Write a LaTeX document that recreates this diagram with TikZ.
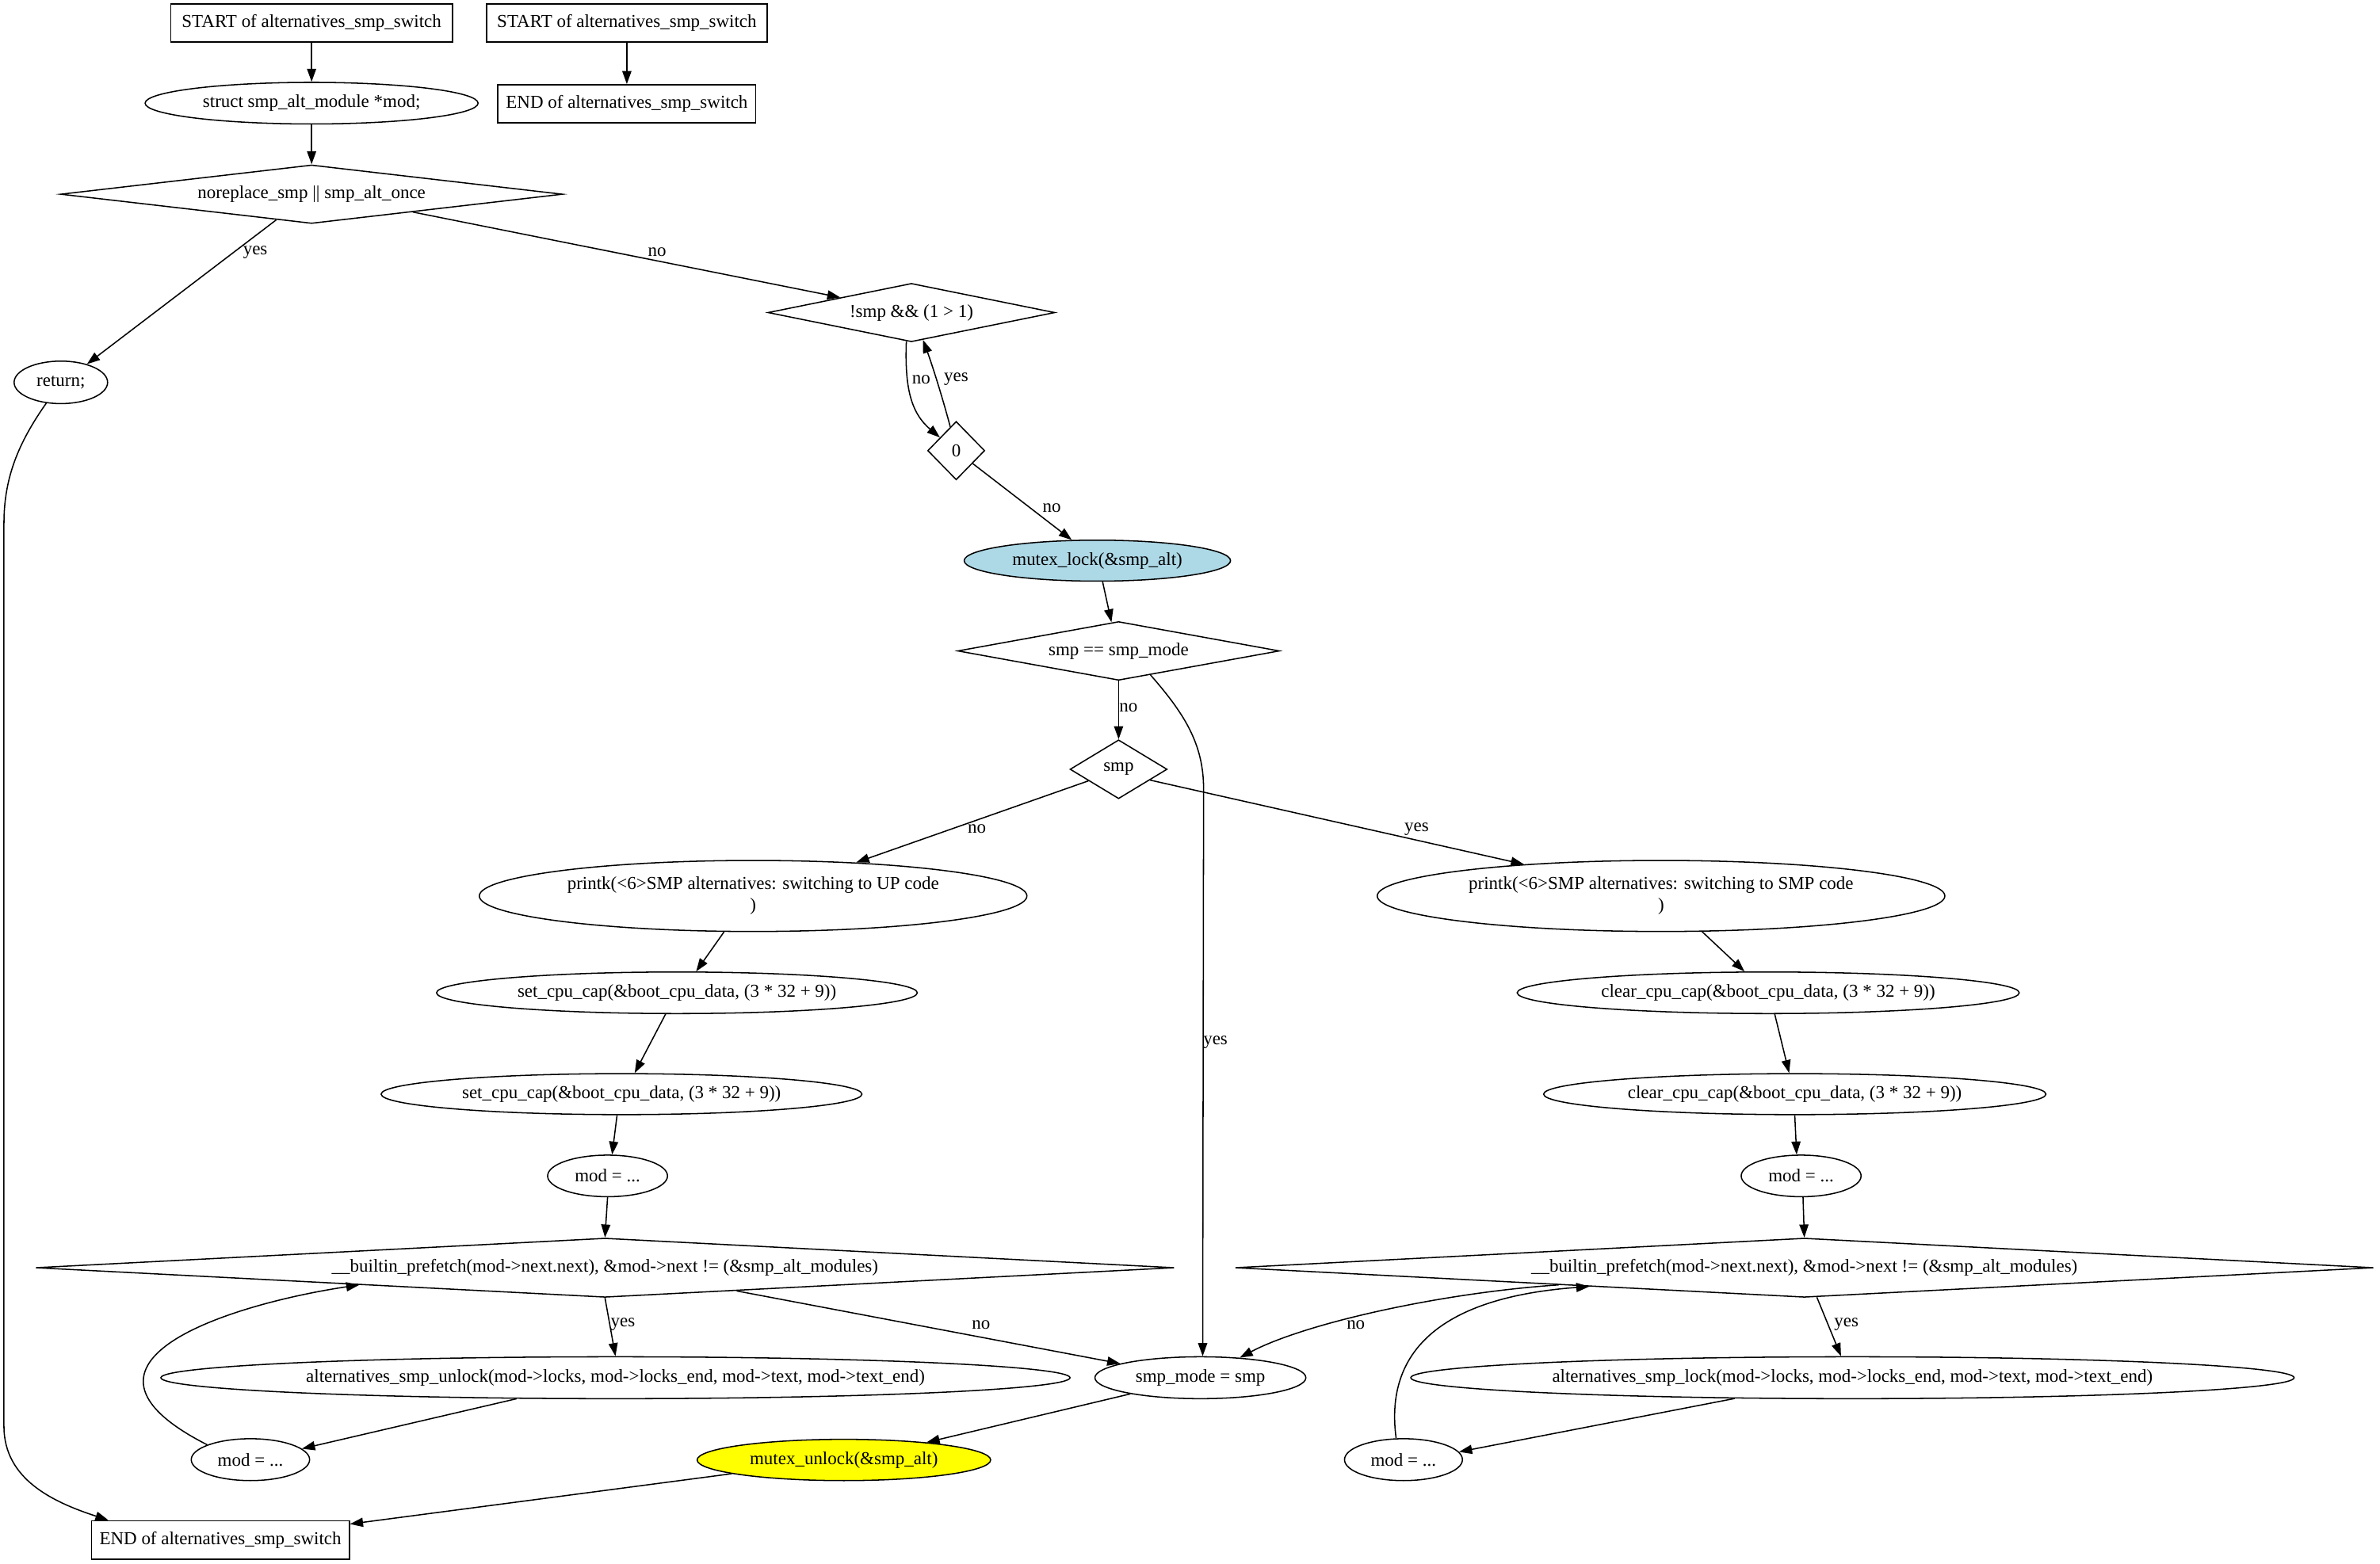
\documentclass[tikz,border=0pt]{standalone}
\usepackage{fontspec}
\setmainfont{Liberation Serif}
\usetikzlibrary{shapes.geometric,arrows.meta}
\definecolor{lblue}{RGB}{173,216,230}
\definecolor{yel}{RGB}{255,255,0}
\begin{document}
\begin{tikzpicture}[x=1pt,y=-1pt,
  every node/.style={font=\fontsize{12}{14}\selectfont, inner sep=0pt},
  box/.style={draw, rectangle, minimum height=25.2pt, line width=0.8pt},
  ell/.style={draw, ellipse, line width=0.8pt},
  dia/.style={draw, diamond, line width=0.8pt},
  arr/.style={-{Triangle[length=8.6pt,width=6pt]}, line width=0.8pt},
  lbl/.style={font=\fontsize{12}{14}\selectfont}]
\useasboundingbox (0,0) rectangle (1568.1,1030.3);

% ---- nodes
\node[box, minimum width=185.5pt] (start1) at (205.3,15.2) {START of alternatives\_smp\_switch};
\node[box, minimum width=185pt] (start2) at (413,15.2) {START of alternatives\_smp\_switch};
\node[box, minimum width=170pt] (end2) at (413,68.4) {END of alternatives\_smp\_switch};
\node[ell, minimum width=219.4pt, minimum height=27.4pt] (structmod) at (205.3,68) {struct smp\_alt\_module *mod;};
\node[dia, aspect=8.57, minimum width=330.7pt, minimum height=38.6pt] (noreplace) at (205.3,128) {noreplace\_smp || smp\_alt\_once};
\node[ell, minimum width=61.6pt, minimum height=28pt] (ret) at (40.1,252) {return;};
\node[dia, aspect=4.9, minimum width=189pt, minimum height=38.5pt] (notsmp) at (600.5,206) {!smp \&\& (1 > 1)};
\node[dia, aspect=1, minimum width=37.6pt, minimum height=38.5pt] (zero) at (630,297) {0};
\node[ell, fill=lblue, minimum width=175.5pt, minimum height=27pt] (mlock) at (723,369.5) {mutex\_lock(\&smp\_alt)};
\node[dia, aspect=5.5, minimum width=212pt, minimum height=38.7pt] (eqmode) at (737,429) {smp == smp\_mode};
\node[dia, aspect=1.65, minimum width=64pt, minimum height=38.8pt] (smp) at (737,507) {smp};
\node[ell, align=center, minimum width=360.8pt, minimum height=46.8pt] (printkUP) at (496.2,590.5) {printk(<6>SMP alternatives: switching to UP code\\)};
\node[ell, align=center, minimum width=374pt, minimum height=46.8pt] (printkSMP) at (1094.4,590.5) {printk(<6>SMP alternatives: switching to SMP code\\)};
\node[ell, minimum width=316.8pt, minimum height=27.4pt] (set1) at (446,654.3) {set\_cpu\_cap(\&boot\_cpu\_data, (3 * 32 + 9))};
\node[ell, minimum width=316.8pt, minimum height=27pt] (set2) at (409.5,721.1) {set\_cpu\_cap(\&boot\_cpu\_data, (3 * 32 + 9))};
\node[ell, minimum width=79pt, minimum height=27.4pt] (mod1) at (400.3,775) {mod = ...};
\node[dia, aspect=19.2, minimum width=750.2pt, minimum height=39pt] (builtinL) at (398.6,835.5) {\_\_builtin\_prefetch(mod->next.next), \&mod->next != (\&smp\_alt\_modules)};
\node[ell, minimum width=599pt, minimum height=27.6pt] (unlock) at (405.5,908) {alternatives\_smp\_unlock(mod->locks, mod->locks\_end, mod->text, mod->text\_end)};
\node[ell, minimum width=78pt, minimum height=27.6pt] (mod2L) at (165,962) {mod = ...};
\node[ell, minimum width=139pt, minimum height=27.6pt] (smpmode) at (790.9,908) {smp\_mode = smp};
\node[ell, fill=yel, minimum width=193.4pt, minimum height=27.2pt] (munlock) at (556,962.2) {mutex\_unlock(\&smp\_alt)};
\node[box, minimum width=170pt] (endL) at (145.2,1014.9) {END of alternatives\_smp\_switch};
\node[ell, minimum width=330.8pt, minimum height=27.4pt] (clear1) at (1165,654.3) {clear\_cpu\_cap(\&boot\_cpu\_data, (3 * 32 + 9))};
\node[ell, minimum width=331pt, minimum height=27pt] (clear2) at (1182.5,721.1) {clear\_cpu\_cap(\&boot\_cpu\_data, (3 * 32 + 9))};
\node[ell, minimum width=79pt, minimum height=27.4pt] (modR) at (1186.7,775) {mod = ...};
\node[dia, aspect=19.2, minimum width=750pt, minimum height=39pt] (builtinR) at (1188.8,835.5) {\_\_builtin\_prefetch(mod->next.next), \&mod->next != (\&smp\_alt\_modules)};
\node[ell, minimum width=582pt, minimum height=27.6pt] (lock) at (1220.5,908) {alternatives\_smp\_lock(mod->locks, mod->locks\_end, mod->text, mod->text\_end)};
\node[ell, minimum width=77.7pt, minimum height=27.6pt] (modR2) at (924.7,962) {mod = ...};

% ---- edges
\draw[arr] (start1.south) -- (structmod.north);
\draw[arr] (start2.south) -- (end2.north);
\draw[arr] (structmod.south) -- (noreplace.north);
\draw[arr] (noreplace.216) -- (ret.35) node[lbl] at (168.2,166.2) {yes};
\draw[arr] (noreplace.-10.6) -- (notsmp.168) node[lbl] at (433,166.2) {no};
\draw[arr] (ret.235) .. controls (12,292) and (2.6,315) .. (2.6,345) -- (2.6,940) .. controls (2.6,975) and (35,990) .. (endL.170);
\draw[arr] (notsmp.260) .. controls (596,255) and (600,272) .. (zero.141) node[lbl] at (607,250) {no};
\draw[arr] (zero.104) .. controls (621,262) and (614,240) .. (notsmp.293) node[lbl] at (630,250) {yes};
\draw[arr] (zero.-38.4) -- (mlock.141.5) node[lbl] at (693,335) {no};
\draw[arr] (mlock.-76) -- (eqmode.104.7);
\draw[arr] (eqmode.south) -- (smp.north) node[lbl] at (743.5,466.6) {no};
\draw[arr] (eqmode.-37.3) .. controls (780,470) and (793,490) .. (793,520) -- (smpmode.84) node[lbl] at (800.8,686.7) {yes};
\draw[arr] (smp.201.8) -- (printkUP.18.5) node[lbl] at (643.7,546.2) {no};
\draw[arr] (smp.-19.3) -- (printkSMP.167) node[lbl] at (933.4,546.6) {yes};
\draw[arr] (printkUP.231.3) -- (set1.48.8);
\draw[arr] (set1.242) -- (set2.58.7);
\draw[arr] (set2.258.6) -- (mod1.78.7);
\draw[arr] (mod1.south) -- (builtinL.north);
\draw[arr] (builtinL.south) -- (unlock.north) node[lbl] at (410.4,873) {yes};
\draw[arr] (builtinL.-10.4) -- (smpmode.170.7) node[lbl] at (646.4,873) {no};
\draw[arr] (unlock.192.8) -- (mod2L.12);
\draw[arr] (mod2L.161.4) .. controls (28,897) and (155,859) .. (builtinL.184.5);
\draw[arr] (smpmode.193.1) -- (munlock.12.6);
\draw[arr] (munlock.187.4) -- (endL.7);
\draw[arr] (printkSMP.-41.3) -- (clear1.138.2);
\draw[arr] (clear1.-73.4) -- (clear2.105.7);
\draw[arr] (clear2.south) -- (modR.102.5);
\draw[arr] (modR.-85) -- (builtinR.north);
\draw[arr] (builtinR.-67.5) -- (lock.118.7) node[lbl] at (1216.5,873) {yes};
\draw[arr] (builtinR.184.6) .. controls (950,852) and (860,872) .. (smpmode.27) node[lbl] at (893.3,873.3) {no};
\draw[arr] (lock.190.5) -- (modR2.8.7);
\draw[arr] (modR2.109.3) .. controls (912,890) and (950,855) .. (builtinR.185.6);
\end{tikzpicture}
\end{document}
